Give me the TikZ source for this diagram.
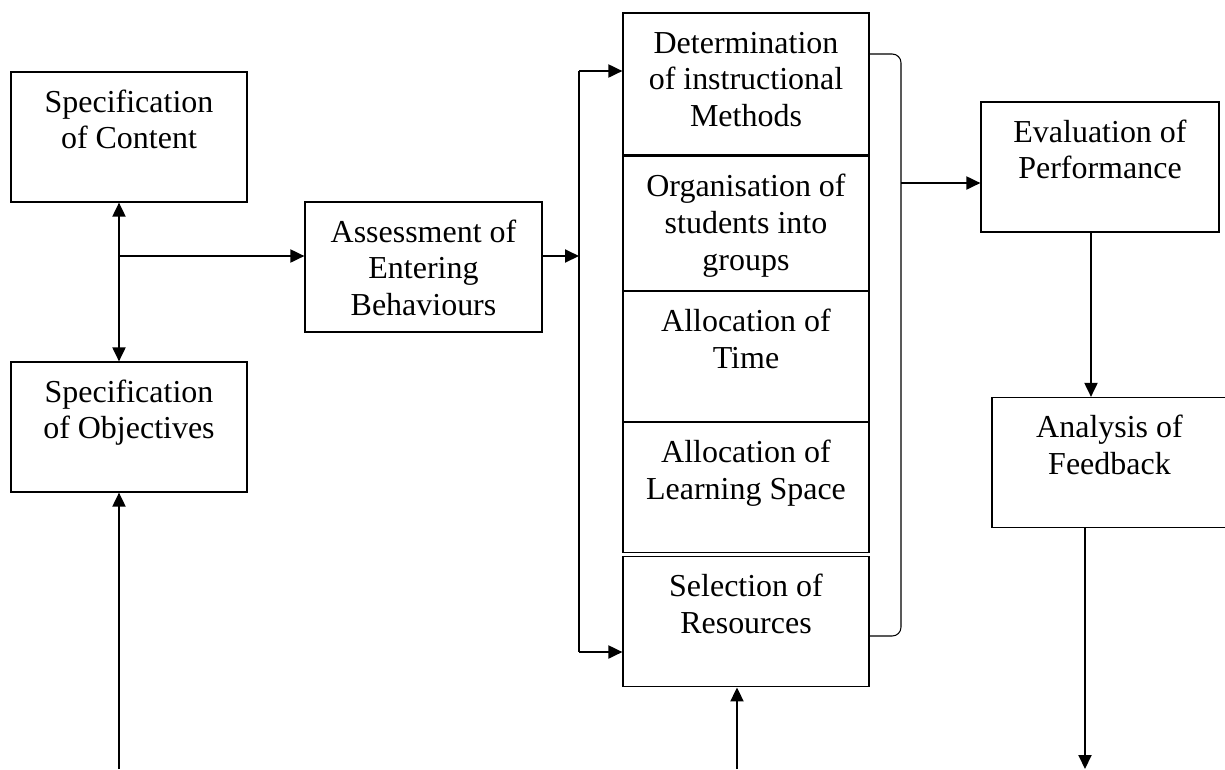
\documentclass[tikz,border=0pt]{standalone}
\usepackage{fontspec}
\setmainfont{Liberation Serif}
\usetikzlibrary{positioning, arrows.meta}

\begin{document}
\begin{tikzpicture}[x=0.02cm, y=-0.02cm,
  >={Triangle[length=0.28cm, width=0.26cm]},
  box/.style={draw, line width=0.7pt, align=flush center, inner sep=0pt,
    font=\fontsize{18.2}{21}\selectfont, text height=0.8cm, text depth=1.8cm},
  cell/.style={box, text width=4.92cm},
  link/.style={line width=1.1pt, ->}]
\useasboundingbox (0,0) rectangle (1225,769);

\node[box, text width=4.72cm] (content) at (129,137) {Specification\\of Content};
\node[box, text width=4.72cm] (objectives) at (129,427) {Specification\\of Objectives};
\node[box, text width=4.74cm] (assess) at (423.5,267) {Assessment of\\Entering\\Behaviours};

\node[cell, text depth=2.04cm] (methods) at (746,84) {Determination\\of instructional\\Methods};
\node[cell, text depth=1.88cm, below=0pt of methods] (groups) {Organisation of\\students into\\groups};
\node[cell, below=0pt of groups] (time) {Allocation of\\Time};
\node[cell, below=0pt of time] (space) {Allocation of\\Learning Space};
\node[cell, below=0.06cm of space] (resources) {Selection of\\Resources};

\node[box, text width=4.76cm] (eval) at (1100,167) {Evaluation of\\Performance};
\node[box, text width=4.70cm] (analysis) at (1109.5,462.5) {Analysis of\\Feedback};

\coordinate (branch) at (119,256);
\coordinate (split) at (579,256);
\coordinate (fork top) at (579,71);
\coordinate (fork bot) at (579,652);
\coordinate (merge) at (901,183);
\coordinate (in left) at (119,769);
\coordinate (in mid) at (737,769);
\coordinate (out right) at (1085,769);

\draw[link, <->] (branch |- content.south) -- (branch |- objectives.north);
\draw[link] (branch) -- (branch -| assess.west);
\draw[link] (split -| assess.east) -- (split);
\draw[line width=1.1pt] (fork top) -- (fork bot);
\draw[link] (fork top) -- (fork top -| methods.west);
\draw[link] (fork bot) -- (fork bot -| resources.west);

% bracket round the column
\draw[line width=0.6pt, rounded corners=5] (methods.east |- 0,54) -- (901,54) -- (901,636) -- (resources.east |- 0,636);
\draw[link] (merge) -- (merge -| eval.west);
\draw[link] (eval.south -| 1091,0) -- (analysis.north -| 1091,0);
\draw[link] (analysis.south -| out right) -- (out right);

\draw[link] (in left) -- (in left |- objectives.south);
\draw[link] (in mid) -- (in mid |- resources.south);
\end{tikzpicture}
\end{document}
